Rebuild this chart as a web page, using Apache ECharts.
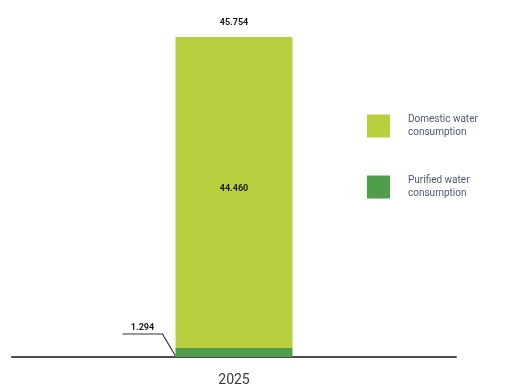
<!DOCTYPE html>
<html>
<head>
<meta charset="utf-8">
<script src="https://cdn.jsdelivr.net/npm/echarts@6/dist/echarts.min.js"></script>
<style>html,body{margin:0;padding:0;background:#fff}#c{width:522px;height:391px}</style>
</head>
<body>
<div id="c"></div>
<script>
const categories = ['2025'];
const domestic = [44460];
const purified = [1294];
const totals = [45754];
const seriesNames = ['Domestic water\nconsumption', 'Purified water\nconsumption'];

function fmt(v) { return String(v).replace(/\B(?=(\d{3})+(?!\d))/g, '.'); }

const chart = echarts.init(document.getElementById('c'), null, {renderer: 'canvas'});
const BAR_W = 117;
const option = {
  animation: false,
  backgroundColor: '#ffffff',
  grid: {left: 12, right: 66, top: 37, bottom: 34},
  legend: {
    orient: 'vertical', left: 362, top: 108, itemWidth: 23, itemHeight: 23, itemGap: 35,
    icon: 'rect', data: seriesNames,
    textStyle: {fontFamily: 'Roboto', fontSize: 10, color: '#4a5878', lineHeight: 13, padding: [0, 0, 0, 13]}
  },
  xAxis: {
    type: 'category', data: categories,
    axisLine: {lineStyle: {color: '#4d4d4d', width: 2}},
    axisTick: {show: false},
    axisLabel: {fontFamily: 'Roboto', fontSize: 14, color: '#3a3a3a', margin: 16}
  },
  yAxis: {type: 'value', min: 0, max: totals[0], show: false, splitLine: {show: false}},
  series: [
    {
      name: seriesNames[1], type: 'bar', stack: 's', barWidth: BAR_W, data: purified,
      itemStyle: {color: '#4f9e4c'}
    },
    {
      name: seriesNames[0], type: 'bar', stack: 's', barWidth: BAR_W, data: domestic,
      itemStyle: {color: '#b9cf3e'},
      label: {show: true, position: 'inside', offset: [0, -4], formatter: p => fmt(p.value),
        fontFamily: 'Roboto', fontWeight: 'bold', fontSize: 9, color: '#1a1a1a'}
    },
    {
      name: 'total', type: 'bar', stack: 's', barWidth: BAR_W, data: [0],
      itemStyle: {color: 'transparent'},
      label: {show: true, position: 'top', distance: 10, formatter: () => fmt(totals[0]),
        fontFamily: 'Roboto', fontWeight: 'bold', fontSize: 9, color: '#1a1a1a'}
    }
  ]
};
chart.setOption(option);

// leader label for purified value
const base = chart.convertToPixel({xAxisIndex: 0, yAxisIndex: 0}, [categories[0], 0]);
const cornerX = base[0] - BAR_W / 2;
const cornerY = base[1];
chart.setOption({
  graphic: [
    {type: 'polyline', shape: {points: [[cornerX - 53, cornerY - 23], [cornerX - 13, cornerY - 23], [cornerX, cornerY - 1]]},
      style: {stroke: '#333', lineWidth: 1.2, fill: null}},
    {type: 'text', x: cornerX - 33, y: cornerY - 25,
      style: {text: fmt(purified[0]), fontFamily: 'Roboto', fontWeight: 'bold', fontSize: 9, fill: '#1a1a1a', align: 'center', verticalAlign: 'bottom'}}
  ]
});
</script>
</body>
</html>
